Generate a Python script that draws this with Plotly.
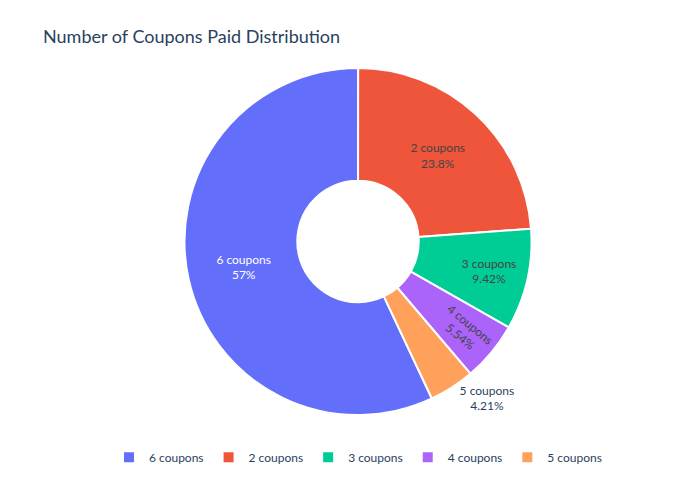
import plotly.graph_objects as go

labels = ["6 coupons", "2 coupons", "3 coupons", "4 coupons", "5 coupons"]
values = [57.0, 23.8, 9.42, 5.54, 4.21]

fig = go.Figure(go.Pie(
    labels=labels, values=values, hole=0.35,
    textinfo="label+percent",
    direction="clockwise", rotation=-205.2,
    marker=dict(line=dict(color="white", width=2)),
))
fig.update_layout(
    width=700, height=500,
    title=dict(text="Number of Coupons Paid Distribution", x=0.05, y=0.955, font=dict(size=18)),
    font=dict(family="Lato"),
    legend=dict(orientation="h", x=0.5, xanchor="center", y=-0.08),
    margin=dict(t=60, b=93, l=80, r=80),
)
fig.write_html("out.html")
